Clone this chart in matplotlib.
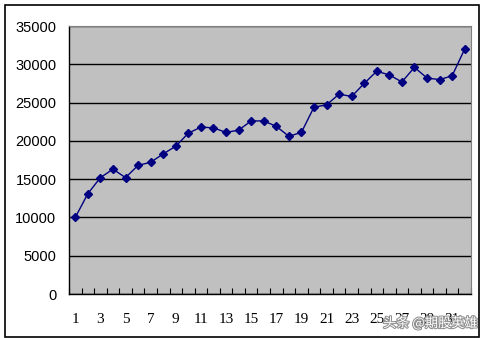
import matplotlib
matplotlib.use("Agg")
import matplotlib.pyplot as plt
import matplotlib.patheffects as pe
from matplotlib.patches import Rectangle

# data
periods = list(range(1, 33))
values = [10000, 13100, 15200, 16300, 15200, 16800, 17200, 18300, 19300, 21000,
          21800, 21700, 21100, 21400, 22600, 22600, 21900, 20600, 21100, 24400,
          24700, 26100, 25800, 27500, 29100, 28600, 27700, 29600, 28200, 28000,
          28500, 32000]
y_ticks = [0, 5000, 10000, 15000, 20000, 25000, 30000, 35000]
x_labels = [1, 3, 5, 7, 9, 11, 13, 15, 17, 19, 21, 23, 25, 27, 29, 31]

W, H = 484, 338
fig = plt.figure(figsize=(W / 100, H / 100), dpi=100)

# outer chart frame
fig.patches.append(Rectangle((5 / W, 1 - 337 / H), 474 / W, 332 / H,
                             transform=fig.transFigure, fill=False,
                             edgecolor="black", linewidth=1.2))

left, right, top, bottom = 69, 471, 26, 294
ax = fig.add_axes([left / W, 1 - bottom / H, (right - left) / W, (bottom - top) / H])
ax.set_facecolor("#c0c0c0")

ax.plot(periods, values, color="#000080", linewidth=1.0,
        marker="D", markersize=4.5, markerfacecolor="#000080",
        markeredgecolor="#000080", zorder=3)

ax.set_xlim(0.5, 32.5)
ax.set_ylim(0, 35000)
ax.set_yticks(y_ticks)
ax.set_yticklabels([str(v) for v in y_ticks], fontsize=10.5,
                   family="Liberation Sans")
ax.yaxis.grid(True, color="black", linewidth=1.0)
ax.set_axisbelow(True)
ax.tick_params(axis="y", length=0, pad=9)

ax.set_xticks(x_labels)
ax.set_xticklabels([str(v) for v in x_labels], fontsize=11,
                   family="Liberation Serif")
ax.set_xticks([i + 0.5 for i in range(0, 33)], minor=True)
ax.tick_params(axis="x", which="major", length=0, pad=14)
ax.tick_params(axis="x", which="minor", direction="in", length=4,
               width=0.8, color="black")

for side in ("top", "right"):
    ax.spines[side].set_color("#808080")
    ax.spines[side].set_linewidth(0.8)
for side in ("left", "bottom"):
    ax.spines[side].set_color("black")
    ax.spines[side].set_linewidth(1.0)

# watermark (overlaps the last x labels, as in the source image)
fig.text(478 / W, 1 - 323 / H, "头条 @期股英雄", ha="right", va="center",
         fontsize=9.5, color="white", family=["Noto Sans CJK SC", "DejaVu Sans"],
         path_effects=[pe.withStroke(linewidth=1.5, foreground="#909090")])

fig.savefig("out.png", dpi=100)
